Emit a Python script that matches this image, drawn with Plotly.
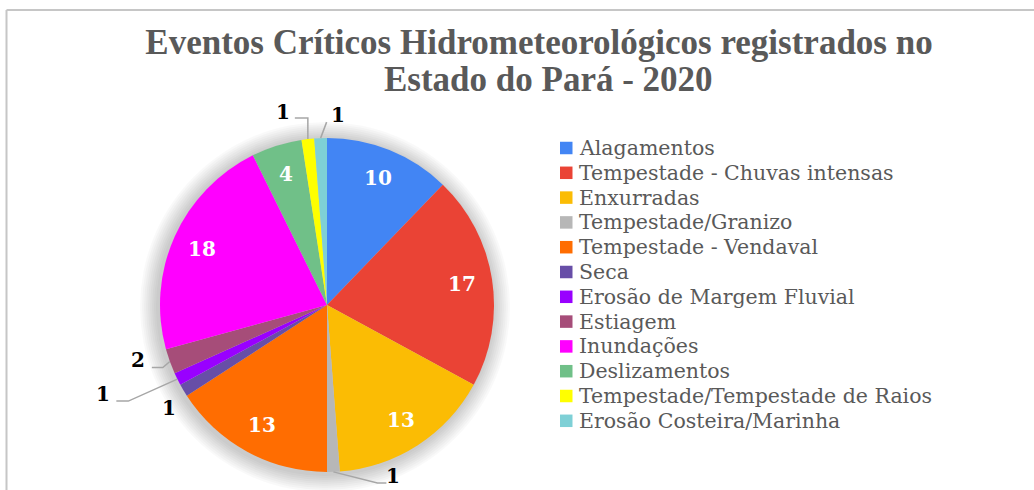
import math
import plotly.graph_objects as go

# ---------------- data ----------------
categories = [
    "Alagamentos", "Tempestade - Chuvas intensas", "Enxurradas", "Tempestade/Granizo",
    "Tempestade - Vendaval", "Seca", "Erosão de Margem Fluvial", "Estiagem",
    "Inundações", "Deslizamentos", "Tempestade/Tempestade de Raios", "Erosão Costeira/Marinha",
]
values = [10, 17, 13, 1, 13, 1, 1, 2, 18, 4, 1, 1]
colors = ["#4285F4", "#EA4335", "#FBBC04", "#B7B7B7", "#FF6D01", "#674EA7",
          "#9900FF", "#A64D79", "#FF00FF", "#70C088", "#FFFF00", "#7ED0D6"]
title_line1 = "Eventos Críticos Hidrometeorológicos registrados no"
title_line2 = "Estado do Pará - 2020"

# ---------------- layout geometry (pixels) ----------------
W, H = 1034, 490
CX, CY, R = 327, 305, 167
inside_idx = [0, 1, 2, 4, 8, 9]
# outside label layout: offsets (px) relative to slice edge point; path elbows
outside_cfg = {
    3: dict(label=(60, 4), path=[(44, 11), (53, 11)]),
    5: dict(label=(-14, 18), path=None),
    6: dict(label=(-74, 15), path=[(-49, 22), (-61, 22)]),
    7: dict(label=(-32, -1), path=[(-7, 6), (-18, 6)]),
    10: dict(label=(-25, -27), path=[(0, -21), (-13, -21)]),
    11: dict(label=(17, -23), path=[(6, -16)]),
}
LEG_X, LEG_Y0, LEG_DY, LEG_SQ = 560, 148, 24.8, 12.5

def px(x):
    return x / W

def py(y):
    return 1 - y / H

total = sum(values)
mid_angles = []
cum = 0
for v in values:
    mid_angles.append((cum + v / 2) / total * 2 * math.pi)
    cum += v

def polar(theta, r):
    return CX + r * math.sin(theta), CY - r * math.cos(theta)

fig = go.Figure(go.Pie(
    labels=categories, values=values, sort=False, direction="clockwise", rotation=0,
    marker=dict(colors=colors, line=dict(width=0)),
    textinfo="none", hoverinfo="label+value", showlegend=False,
    domain=dict(x=[px(CX - R), px(CX + R)], y=[py(CY + R), py(CY - R)]),
))

shapes = []
# soft shadow behind pie
for k in range(9):
    rr = R + 2 + k * 2
    shapes.append(dict(type="circle", xref="paper", yref="paper", layer="below",
                       x0=px(CX - rr - 2), x1=px(CX + rr - 2), y0=py(CY + rr + 2), y1=py(CY - rr + 2),
                       fillcolor="rgba(0,0,0,0.022)", line=dict(width=0)))
# chart frame
shapes.append(dict(type="line", xref="paper", yref="paper", x0=px(6.5), x1=1, y0=py(10), y1=py(10),
                   line=dict(color="#C6C6C6", width=2)))
shapes.append(dict(type="line", xref="paper", yref="paper", x0=px(6.5), x1=px(6.5), y0=py(10), y1=0,
                   line=dict(color="#C6C6C6", width=2)))

annotations = []
for i in inside_idx:
    x, y = polar(mid_angles[i], 0.82 * R)
    annotations.append(dict(x=px(x), y=py(y), xref="paper", yref="paper", text=str(values[i]),
                            showarrow=False, xanchor="center", yanchor="middle",
                            font=dict(family="DejaVu Serif", size=20, color="white", weight="bold")))
for i, cfg in outside_cfg.items():
    ex, ey = polar(mid_angles[i], R)
    lx, ly = ex + cfg["label"][0], ey + cfg["label"][1]
    annotations.append(dict(x=px(lx), y=py(ly), xref="paper", yref="paper", text=str(values[i]),
                            showarrow=False, xanchor="center", yanchor="middle",
                            font=dict(family="DejaVu Serif", size=20, color="black", weight="bold")))
    if cfg["path"]:
        pts = [(ex, ey)] + [(ex + dx, ey + dy) for dx, dy in cfg["path"]]
        d = "M " + " L ".join(f"{px(a):.5f},{py(b):.5f}" for a, b in pts)
        shapes.append(dict(type="path", xref="paper", yref="paper", path=d,
                           line=dict(color="#A6A6A6", width=1.5)))

# legend (drawn from categories / colors)
for j, (name, col) in enumerate(zip(categories, colors)):
    yc = LEG_Y0 + j * LEG_DY
    shapes.append(dict(type="rect", xref="paper", yref="paper",
                       x0=px(LEG_X), x1=px(LEG_X + LEG_SQ),
                       y0=py(yc + LEG_SQ / 2), y1=py(yc - LEG_SQ / 2),
                       fillcolor=col, line=dict(width=0)))
    annotations.append(dict(x=px(LEG_X + LEG_SQ + 4), y=py(yc), xref="paper", yref="paper",
                            text=name, showarrow=False, xanchor="left", yanchor="middle",
                            font=dict(family="DejaVu Serif", size=20.5, color="#595959")))

# second title line
annotations.append(dict(x=px(548), y=py(80), xref="paper", yref="paper", text=title_line2,
                        showarrow=False, xanchor="center", yanchor="middle",
                        font=dict(family="Liberation Serif", size=35, color="#595959", weight="bold")))

fig.update_layout(
    width=W, height=H,
    margin=dict(l=0, r=0, t=0, b=0),
    paper_bgcolor="white", plot_bgcolor="white",
    title=dict(text=title_line1, x=px(539), xanchor="center", y=py(29), yanchor="top",
               font=dict(family="Liberation Serif", size=35, color="#595959", weight="bold")),
    showlegend=False,
    shapes=shapes, annotations=annotations,
)

fig.write_html("out.html", config={"displayModeBar": False},
               post_script="document.body.style.margin='0';")
